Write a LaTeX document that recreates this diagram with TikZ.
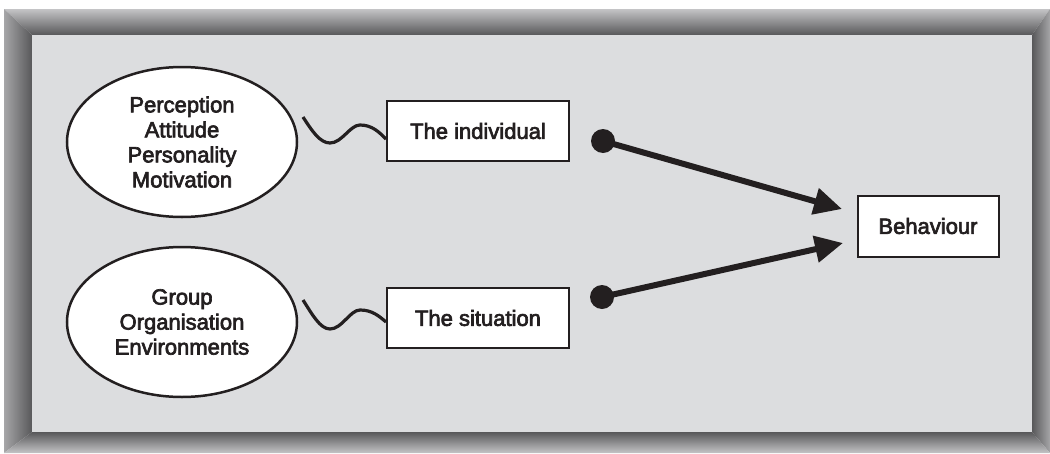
\documentclass[tikz,border=0pt]{standalone}
\usepackage{fontspec}
\setmainfont{Liberation Sans}
\newfontfamily\labelfont{Liberation Sans}[FakeBold=3]
\usetikzlibrary{shapes.geometric,arrows.meta}
\definecolor{panel}{HTML}{DCDDDF}
\definecolor{bevdark}{HTML}{58585A}
\definecolor{bevlight}{HTML}{C4C4C6}
\definecolor{bevmid}{HTML}{A6A6A8}
\definecolor{ink}{HTML}{231F20}
\begin{document}
\begin{tikzpicture}[x=1pt,y=-1pt,
  every node/.style={font=\labelfont\fontsize{22}{25}\selectfont,text=ink},
  oval/.style={ellipse,draw=ink,line width=2.5pt,fill=white,
    minimum width=230pt,minimum height=150pt,align=center,inner sep=0pt},
  factor/.style={draw=ink,line width=2pt,fill=white,
    minimum width=182pt,minimum height=60pt,inner sep=0pt},
  dot/.style={circle,fill=ink,minimum size=24pt,inner sep=0pt},
  wave/.style={draw=ink,line width=3.2pt},
  link/.style={draw=ink,line width=6pt,-{Triangle[length=28pt,width=26pt]}}]

\useasboundingbox (0,0) rectangle (1050,453);
\fill[white] (0,0) rectangle (1050,453);

% bevelled frame
\shade[top color=bevlight,bottom color=bevdark]
  (4,9) -- (1050,9) -- (1032,35) -- (32,35) -- cycle;
\shade[left color=bevmid,right color=bevdark]
  (4,9) -- (32,35) -- (32,432) -- (4,453) -- cycle;
\shade[left color=bevdark,right color=bevmid]
  (1050,9) -- (1050,453) -- (1032,432) -- (1032,35) -- cycle;
\shade[top color=bevdark,bottom color=bevlight]
  (4,453) -- (1050,453) -- (1032,432) -- (32,432) -- cycle;
\fill[panel] (32,35) rectangle (1032,432);

% factors
\node[oval] (pers) at (182,142) {Perception\\Attitude\\Personality\\Motivation};
\node[oval] (env) at (182,322) {Group\\Organisation\\Environments};

\node[factor] (ind) at (478,131) {The individual};
\node[factor] (sit) at (478,318) {The situation};
\node[factor,minimum width=141pt,minimum height=61pt] (beh) at (928,226) {Behaviour};

% wavy links from the ovals
\coordinate (w1) at (303,117);
\coordinate (w2) at (303,300);
\draw[wave] (w1) .. controls (312,131) and (320,143) .. (330,143)
  .. controls (342,143) and (350,125) .. (360,125)
  .. controls (372,125) and (379,132) .. ([yshift=-8pt]ind.west);
\draw[wave] (w2) .. controls (312,314) and (320,329) .. (330,329)
  .. controls (342,329) and (350,310) .. (360,310)
  .. controls (372,310) and (379,316) .. ([yshift=-4pt]sit.west);

% arrows into behaviour
\node[dot] (d1) at (603,141) {};
\node[dot] (d2) at (602,297) {};
\coordinate (t1) at (842,209);
\coordinate (t2) at (843,243);
\draw[link] (d1.center) -- (t1);
\draw[link] (d2.center) -- (t2);
\end{tikzpicture}
\end{document}
